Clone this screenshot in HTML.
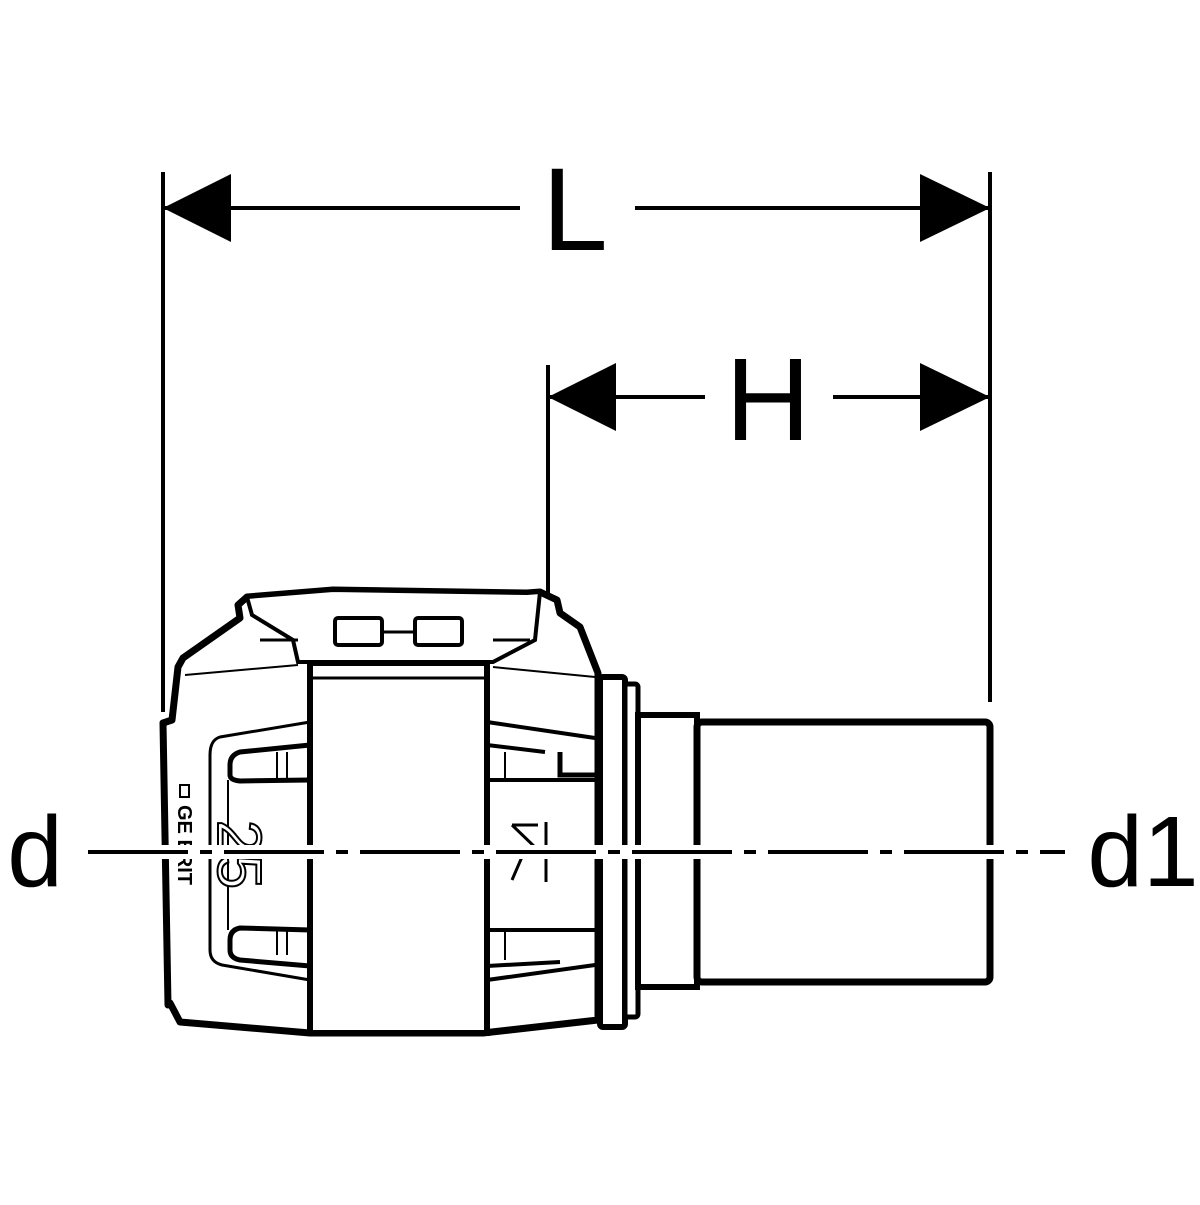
<!DOCTYPE html>
<html><head><style>html,body{margin:0;padding:0;background:#fff}</style></head><body>
<svg width="1200" height="1200" viewBox="0 0 1200 1200" xmlns="http://www.w3.org/2000/svg" font-family="Liberation Sans, sans-serif">
<g stroke="#000" fill="none">
<!-- dimension L -->
<line x1="163" y1="172" x2="163" y2="712" stroke-width="4"/>
<line x1="990" y1="172" x2="990" y2="702" stroke-width="4"/>
<line x1="163" y1="208" x2="520" y2="208" stroke-width="4"/>
<line x1="635" y1="208" x2="990" y2="208" stroke-width="4"/>
<polygon points="163,208 231,174 231,242" fill="#000" stroke="none"/>
<polygon points="990,208 920,174 920,242" fill="#000" stroke="none"/>
<!-- dimension H -->
<line x1="548" y1="365" x2="548" y2="808" stroke-width="4"/>
<line x1="548" y1="397" x2="705" y2="397" stroke-width="4"/>
<line x1="833" y1="397" x2="990" y2="397" stroke-width="4"/>
<polygon points="548,397 616,363 616,431" fill="#000" stroke="none"/>
<polygon points="990,397 920,363 920,431" fill="#000" stroke="none"/>
<!-- body -->
<path d="M168,1005 L163,723 L172,720 L178,667 L183,658 L240,618 L238,605 L247,597 L333,590 L527,593 L540,592 L557,600 L560,613 L580,627 L598,673 L598,1020 L483,1033 L310,1033 L180,1022 L170,1003 Z" stroke-width="7" stroke-linejoin="round" fill="#fff"/>
<!-- top clip -->
<path d="M298,662 L293,640 L252,615 L247,597 L333,590 L527,593 L540,592 L535,640 L493,662 Z" stroke-width="4" fill="#fff"/>
<path d="M260,640 L298,640 M493,640 L530,640" stroke-width="3"/>
<rect x="335" y="618" width="47" height="27" rx="3" stroke-width="4"/>
<rect x="415" y="618" width="47" height="27" rx="3" stroke-width="4"/>
<path d="M382,632 L415,632" stroke-width="3"/>
<!-- center band -->
<rect x="310" y="663" width="177" height="370" stroke-width="6" fill="#fff"/>
<line x1="310" y1="678" x2="487" y2="678" stroke-width="3"/>
<!-- left windows -->
<path d="M310,722 L220,737 Q210,740 210,755 L210,950 Q210,962 222,965 L310,980" stroke-width="3"/>
<path d="M310,745 L240,752 Q230,755 230,765 L230,775 Q230,780 240,781 L310,780" stroke-width="5"/>
<path d="M310,930 L240,928 Q230,930 230,940 L230,950 Q230,958 240,960 L310,966" stroke-width="5"/>
<path d="M277,752 L277,780 M287,752 L287,780 M277,928 L277,955 M287,928 L287,955" stroke-width="2"/>
<line x1="228" y1="780" x2="228" y2="930" stroke-width="2"/>
<line x1="185" y1="675" x2="298" y2="665" stroke-width="2"/>
<!-- right windows -->
<path d="M487,722 L595,738 M487,745 L545,752 M487,780 L598,780 M487,930 L598,930 M487,966 L560,962 M487,980 L595,965" stroke-width="4"/>
<path d="M560,752 L560,775 L598,775" stroke-width="5"/>
<line x1="505" y1="752" x2="505" y2="780" stroke-width="2"/>
<line x1="505" y1="930" x2="505" y2="960" stroke-width="2"/>
<path d="M493,667 L595,677" stroke-width="2"/>
<!-- collar and pipe -->
<rect x="600" y="677" width="25" height="350" rx="3" stroke-width="6" fill="#fff"/>
<rect x="625" y="684" width="13" height="333" rx="3" stroke-width="5" fill="#fff"/>
<rect x="638" y="715" width="59" height="272" stroke-width="6" fill="#fff"/>
<rect x="697" y="722" width="293" height="260" rx="5" stroke-width="7" fill="#fff"/>
</g>
<!-- labels inside -->
<rect x="180" y="785" width="9" height="12" fill="none" stroke="#000" stroke-width="2"/>
<text x="0" y="0" font-size="20" font-weight="bold" transform="translate(178,805) rotate(90)" fill="#000">GE  ERIT</text>
<text x="0" y="0" font-size="62" fill="#fff" stroke="#000" stroke-width="2" transform="translate(218,820) rotate(90)">25</text>
<path d="M512,825 L538,825 M512,825 L538,850 L512,850 M525,850 L512,880 M546,822 L546,882" stroke="#000" stroke-width="3" fill="none"/>
<!-- centerline -->
<line x1="88" y1="852" x2="1065" y2="852" stroke="#fff" stroke-width="14"/>
<line x1="88" y1="852" x2="1065" y2="852" stroke="#000" stroke-width="4" stroke-dasharray="100,12,12,12"/>
<!-- text -->
<text x="575" y="250" font-size="118" text-anchor="middle">L</text>
<text x="768" y="440" font-size="118" text-anchor="middle">H</text>
<text x="35" y="886" font-size="100" text-anchor="middle">d</text>
<text x="1143" y="886" font-size="100" text-anchor="middle">d1</text>
</svg>
</body></html>
